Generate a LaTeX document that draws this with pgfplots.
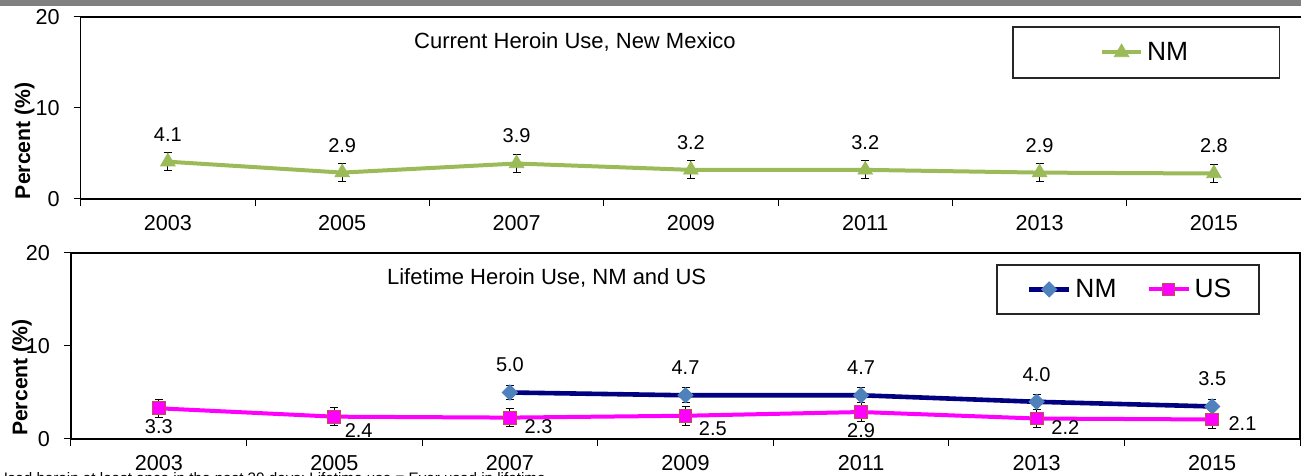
\documentclass[border=0pt]{standalone}
\usepackage{fontspec}
\setmainfont{Liberation Sans}
\usepackage{pgfplots}
\pgfplotsset{compat=1.18}
\definecolor{nmgreen}{RGB}{155,187,89}
\definecolor{nmnavy}{RGB}{0,0,128}
\definecolor{nmdiam}{RGB}{79,129,189}
\definecolor{usmag}{RGB}{255,0,255}
\definecolor{usedge}{RGB}{192,80,77}
\definecolor{hdrgray}{RGB}{128,128,128}
\pgfplotsset{
  myaxis/.style={
    scale only axis, anchor=south west, clip=false,
    xmin=0, xmax=7, ymin=0, ymax=20,
    ytick={0,10,20}, xtick={0,...,7},
    xticklabels={2003,2005,2007,2009,2011,2013,2015,{}},
    xtick pos=left, ytick pos=left,
    tick align=outside, major tick length=3.5pt,
    tick style={black, line width=0.5pt},
    axis line style={black, line width=0.6pt},
    /pgf/number format/assume math mode=true,
    tick label style={font=\fontsize{10.8}{13}\selectfont},
    yticklabel style={anchor=east, inner sep=0pt, xshift=-6.8pt},
    every axis y label/.style={rotate=90, anchor=center, font=\bfseries\fontsize{10.6}{12}\selectfont},
    ylabel={Percent (\%)},
    legend style={draw=none, fill=none, anchor=center, font=\fontsize{13.2}{15}\selectfont},
    legend cell align=left,
  },
  nnc/.style={point meta=y,
    nodes near coords={\pgfmathprintnumber[fixed,fixed zerofill,precision=1]{\pgfplotspointmeta}},
    nodes near coords style={font=\fontsize{10}{12}\selectfont, text=black, inner sep=0pt, #1}},
  myerr/.style={error bars/y dir=both, error bars/y explicit,
    error bars/error bar style={black, line width=0.5pt, solid},
    error bars/error mark options={rotate=90, black, mark size=2pt, line width=0.5pt, solid}},
  lab/.style={draw=none, mark=none, forget plot, nnc={#1}},
}
\begin{document}
\begin{tikzpicture}
\path[use as bounding box] (0,0) rectangle (650.5pt,238pt);
\fill[hdrgray] (0,235pt) rectangle (650.5pt,238pt);
% ---------------- top panel
\begin{axis}[myaxis, at={(40.35pt,138.5pt)}, width=610.2pt, height=91pt,
  xticklabel style={anchor=north, inner sep=0pt, xshift=43.58pt, yshift=-4.5pt},
  ylabel style={at={(rel axis cs:-0.046,0.32)}},
  legend style={at={(rel axis cs:0.873,0.805)}},
  legend image code/.code={\draw[mark repeat=2, mark phase=2, #1] plot coordinates {(0pt,0pt) (9.75pt,0pt) (19.5pt,0pt)};},
]
\addplot+[nmgreen, line width=2pt, mark=triangle*, mark size=4.2pt,
  mark options={fill=nmgreen, draw=nmgreen, line width=0.4pt, solid},
  myerr, nnc={anchor=south, yshift=10pt}]
  coordinates {(0.5,4.1) +- (0,1.0) (1.5,2.9) +- (0,1.0) (2.5,3.9) +- (0,1.0)
               (3.5,3.2) +- (0,1.0) (4.5,3.2) +- (0,1.0) (5.5,2.9) +- (0,1.0) (6.5,2.8) +- (0,1.0)};
\addlegendentry{NM}
\draw[black!85, line width=0.6pt] (rel axis cs:0.764,0.665) rectangle (rel axis cs:0.982,0.945);
\node[font=\fontsize{11}{13}\selectfont] at (rel axis cs:0.405,0.863) {Current Heroin Use, New Mexico};
\end{axis}
% ---------------- bottom panel
\begin{axis}[myaxis, at={(35.5pt,18.5pt)}, width=614.5pt, height=93pt,
  xticklabel style={anchor=north, inner sep=0pt, xshift=43.89pt, yshift=-4.5pt},
  ylabel style={at={(rel axis cs:-0.040,0.33)}},
  legend columns=2,
  legend style={at={(rel axis cs:0.8625,0.804)}, /tikz/every even column/.append style={column sep=13pt}},
  legend image code/.code={\draw[mark repeat=2, mark phase=2, #1] plot coordinates {(0pt,0pt) (10pt,0pt) (20pt,0pt)};},
]
\addplot+[nmnavy, line width=2.3pt, mark=square*, mark size=2.7pt,
  mark options={rotate=45, fill=nmdiam, draw=nmdiam, line width=0.4pt, solid},
  myerr, nnc={anchor=south, yshift=10pt}]
  coordinates {(2.5,5.0) +- (0,0.8) (3.5,4.7) +- (0,0.8) (4.5,4.7) +- (0,0.8)
               (5.5,4.0) +- (0,0.8) (6.5,3.5) +- (0,0.8)};
\addlegendentry{NM}
\addplot+[usmag, line width=2pt, mark=square*, mark size=3.2pt,
  mark options={fill=usmag, draw=usedge, line width=0.5pt, solid},
  myerr]
  coordinates {(0.5,3.3) +- (0,1.0) (1.5,2.4) +- (0,1.0) (2.5,2.3) +- (0,1.0) (3.5,2.5) +- (0,1.0)
               (4.5,2.9) +- (0,1.0) (5.5,2.2) +- (0,1.0) (6.5,2.1) +- (0,1.0)};
\addlegendentry{US}
\addplot[lab={anchor=north, yshift=-5.5pt}] coordinates {(0.5,3.3) (4.5,2.9)};
\addplot[lab={anchor=west, xshift=5pt, yshift=-7pt}] coordinates {(1.5,2.4)};
\addplot[lab={anchor=west, xshift=7.2pt, yshift=-4.5pt}] coordinates {(2.5,2.3) (5.5,2.2)};
\addplot[lab={anchor=west, xshift=6.5pt, yshift=-6.5pt}] coordinates {(3.5,2.5)};
\addplot[lab={anchor=west, xshift=8pt, yshift=-1.8pt}] coordinates {(6.5,2.1)};
\draw[black!85, line width=0.6pt] (rel axis cs:0.7535,0.672) rectangle (rel axis cs:0.9666,0.935);
\node[font=\fontsize{11}{13}\selectfont] at (rel axis cs:0.387,0.866) {Lifetime Heroin Use, NM and US};
\end{axis}
\node[anchor=base east, inner sep=0pt, font=\fontsize{7.6}{8}\selectfont] at (273pt,-3.9pt)
  {Current use = Used heroin at least once in the past 30 days; Lifetime use = Ever used in lifetime};
\end{tikzpicture}
\end{document}
